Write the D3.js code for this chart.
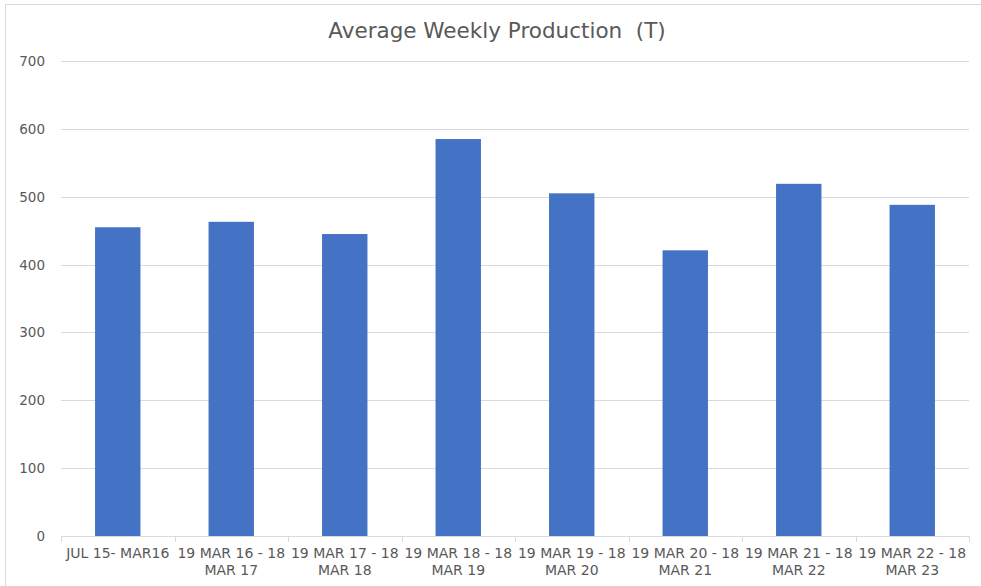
<!DOCTYPE html>
<html>
<head>
<meta charset="utf-8">
<script src="https://cdn.jsdelivr.net/npm/d3@7"></script>
<style>
  body { margin: 0; background: #fff; }
  text { font-family: "DejaVu Sans", sans-serif; fill: #595959; }
</style>
</head>
<body>
<svg id="chart" width="981" height="586"></svg>
<script>
// data
var categories = [
  ["JUL 15- MAR16"],
  ["19 MAR 16 - 18", "MAR 17"],
  ["19 MAR 17 - 18", "MAR 18"],
  ["19 MAR 18 - 18", "MAR 19"],
  ["19 MAR 19 - 18", "MAR 20"],
  ["19 MAR 20 - 18", "MAR 21"],
  ["19 MAR 21 - 18", "MAR 22"],
  ["19 MAR 22 - 18", "MAR 23"]
];
var values = [455, 463, 445, 585, 505, 421, 519, 488];
var yTicks = [0, 100, 200, 300, 400, 500, 600, 700];
var title = "Average Weekly Production  (T)";

var svg = d3.select("#chart");
var plotLeft = 61, plotRight = 969, plotTop = 61, plotBottom = 536;

// outer frame (only top and left edge show in the picture)
svg.append("path")
    .attr("d", "M5.5,586 V4.5 H981")
    .attr("fill", "none")
    .attr("stroke", "#d9d9d9");

var x = d3.scaleBand()
    .domain(d3.range(categories.length))
    .range([plotLeft, plotRight])
    .paddingInner(0.6)
    .paddingOuter(0.3);

var y = d3.scaleLinear().domain([0, 700]).range([plotBottom, plotTop]);

// gridlines
svg.append("g").selectAll("line")
    .data(yTicks.slice(1))
    .enter().append("line")
    .attr("x1", plotLeft).attr("x2", plotRight)
    .attr("y1", function(d) { return Math.round(y(d)) + 0.5; })
    .attr("y2", function(d) { return Math.round(y(d)) + 0.5; })
    .attr("stroke", "#d9d9d9")
    .attr("stroke-width", 1);

// y labels
svg.append("g").selectAll("text")
    .data(yTicks)
    .enter().append("text")
    .attr("x", 45)
    .attr("y", function(d) { return y(d) + 5; })
    .attr("text-anchor", "end")
    .style("font-size", "13.5px")
    .text(function(d) { return d; });

// bars
svg.append("g").selectAll("rect")
    .data(values)
    .enter().append("rect")
    .attr("x", function(d, i) { return x(i); })
    .attr("width", x.bandwidth())
    .attr("y", function(d) { return y(d); })
    .attr("height", function(d) { return plotBottom - y(d); })
    .style("fill", "#4472c4");

// x axis line + ticks at category boundaries
var step = (plotRight - plotLeft) / categories.length;
svg.append("line")
    .attr("x1", plotLeft).attr("x2", plotRight)
    .attr("y1", plotBottom + 0.5).attr("y2", plotBottom + 0.5)
    .attr("stroke", "#d9d9d9");
svg.append("g").selectAll("line")
    .data(d3.range(categories.length + 1))
    .enter().append("line")
    .attr("x1", function(d) { return Math.round(plotLeft + d * step) + 0.5; })
    .attr("x2", function(d) { return Math.round(plotLeft + d * step) + 0.5; })
    .attr("y1", plotBottom).attr("y2", plotBottom + 6)
    .attr("stroke", "#d9d9d9");

// category labels
var lbl = svg.append("g").selectAll("text")
    .data(categories)
    .enter().append("text")
    .attr("x", function(d, i) { return x(i) + x.bandwidth() / 2; })
    .attr("y", 558)
    .attr("text-anchor", "middle")
    .style("font-size", "14px");
lbl.selectAll("tspan")
    .data(function(d) { return d; })
    .enter().append("tspan")
    .attr("x", function() { return d3.select(this.parentNode).attr("x"); })
    .attr("dy", function(d, i) { return i ? 17 : 0; })
    .text(function(d) { return d; });

// title
svg.append("text")
    .attr("x", 497)
    .attr("y", 38)
    .attr("text-anchor", "middle")
    .style("font-size", "21.5px")
    .style("white-space", "pre")
    .text(title);
</script>
</body>
</html>
